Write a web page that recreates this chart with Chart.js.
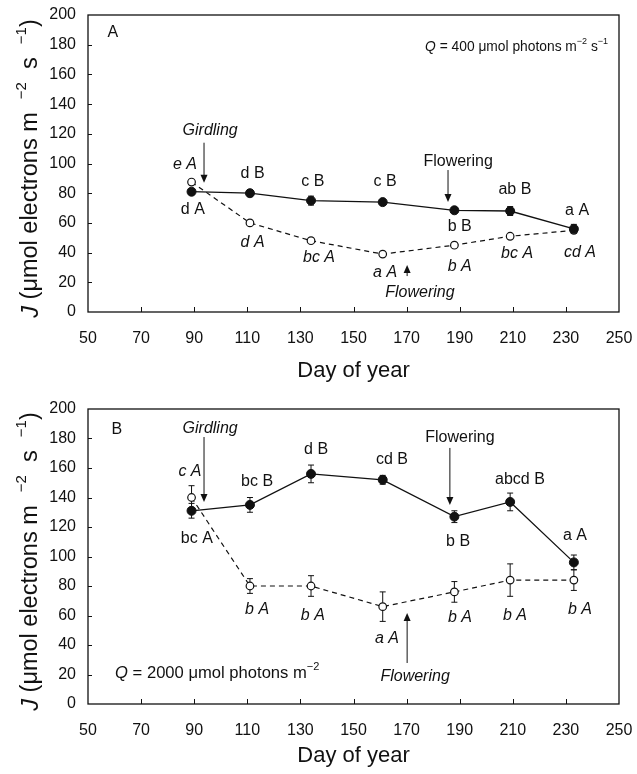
<!DOCTYPE html>
<html>
<head>
<meta charset="utf-8">
<script src="https://cdn.jsdelivr.net/npm/chart.js@4.4.0/dist/chart.umd.min.js"></script>
<style>
  html, body { margin: 0; padding: 0; background: #fff; }
  #wrap { position: relative; width: 637px; height: 774px; }
  .panel { position: absolute; left: 0; width: 637px; }
</style>
</head>
<body>
<div id="wrap">
  <div class="panel" style="top:0"><canvas id="chartA" width="637" height="382"></canvas></div>
  <div class="panel" style="top:382px"><canvas id="chartB" width="637" height="392"></canvas></div>
</div>
<script>
// Day of year of each measurement
const days = [89, 111, 134, 161, 188, 209, 233];

// Panel A, Q = 400
const controlA = [81, 80, 75, 74, 68.5, 68, 56];
const controlAErr = [2, 2, 3, 1.5, 1.5, 3, 3];
const girdledA = [87.5, 60, 48, 39, 45, 51, 55];
const girdledAErr = [1, 1, 1, 1, 1, 1, 1];

// Panel B, Q = 2000
const controlB = [131, 135, 156, 152, 127, 137, 96];
const controlBErr = [5, 5, 6, 3, 4, 6, 5];
const girdledB = [140, 80, 80, 66, 76, 84, 84];
const girdledBErr = [8, 5, 7, 10, 7, 11, 7];

// Axis ranges
const xMin = 50, xMax = 250, xStep = 20;
const yMin = 0, yMax = 200, yStep = 20;

// Letter labels (data coords), italic = girdled trees
const notesA = [
  { t: 'Girdling', x: 96, y: 122, it: true },
  { t: 'e A', x: 86.5, y: 99, it: true },
  { t: 'd A', x: 89.5, y: 69 },
  { t: 'd B', x: 112, y: 93 },
  { t: 'd A', x: 112, y: 46.5, it: true },
  { t: 'c B', x: 134.7, y: 87.5 },
  { t: 'bc A', x: 137, y: 36.4, it: true },
  { t: 'c B', x: 161.9, y: 87.5 },
  { t: 'a A', x: 161.9, y: 26.9, it: true },
  { t: 'Flowering', x: 175, y: 12.8, it: true },
  { t: 'Flowering', x: 189.4, y: 101 },
  { t: 'b B', x: 190, y: 57.2 },
  { t: 'b A', x: 190, y: 30.3, it: true },
  { t: 'ab B', x: 210.8, y: 82.2 },
  { t: 'bc A', x: 211.6, y: 39.1, it: true },
  { t: 'a A', x: 234.2, y: 68 },
  { t: 'cd A', x: 235.3, y: 39.7, it: true }
];
const arrowsA = [
  { x: 93.7, from: 114, to: 87 },
  { x: 185.6, from: 95.6, to: 74.1 },
  { x: 170.2, from: 24.2, to: 31.6 }
];

const notesB = [
  { t: 'Girdling', x: 96, y: 187, it: true },
  { t: 'c A', x: 88.4, y: 157.3, it: true },
  { t: 'bc A', x: 91, y: 111.9 },
  { t: 'bc B', x: 113.7, y: 150.5 },
  { t: 'b A', x: 113.7, y: 63.7, it: true },
  { t: 'd B', x: 135.9, y: 172.2 },
  { t: 'b A', x: 134.7, y: 60.3, it: true },
  { t: 'cd B', x: 164.5, y: 165.4 },
  { t: 'a A', x: 162.6, y: 44.7, it: true },
  { t: 'Flowering', x: 190.1, y: 180.3 },
  { t: 'abcd B', x: 212.7, y: 151.9 },
  { t: 'b B', x: 189.4, y: 109.8 },
  { t: 'a A', x: 233.4, y: 113.9 },
  { t: 'b A', x: 190.1, y: 58.3, it: true },
  { t: 'b A', x: 210.8, y: 60.3, it: true },
  { t: 'b A', x: 235.3, y: 63.7, it: true },
  { t: 'Flowering', x: 173.2, y: 18.3, it: true }
];
const arrowsB = [
  { x: 93.7, from: 181, to: 137 },
  { x: 186.3, from: 173.6, to: 134.9 },
  { x: 170.2, from: 27.8, to: 61.7 }
];

const FONT = "'Liberation Sans', Arial, Helvetica, sans-serif";
const INK = '#111';

function setFont(ctx, size, italic) {
  ctx.font = (italic ? 'italic ' : '') + size + 'px ' + FONT;
}

// draw mixed text: parts = [{t, it, sup}]
function drawRich(ctx, x, y, parts, size, align, supScale) {
  const supSize = Math.round(size * (supScale || 0.65));
  let total = 0;
  parts.forEach(p => {
    setFont(ctx, p.sup ? supSize : size, p.it);
    p.w = ctx.measureText(p.t).width;
    total += p.w;
  });
  let cx = align === 'right' ? x - total : align === 'center' ? x - total / 2 : x;
  ctx.textAlign = 'left';
  ctx.textBaseline = 'middle';
  parts.forEach(p => {
    setFont(ctx, p.sup ? supSize : size, p.it);
    ctx.fillText(p.t, cx, p.sup ? y - size * 0.38 : y);
    cx += p.w;
  });
}

function drawArrow(ctx, x, y0, y1) {
  const dir = y1 > y0 ? 1 : -1;
  ctx.beginPath();
  ctx.moveTo(x, y0);
  ctx.lineTo(x, y1 - dir * 7);
  ctx.stroke();
  ctx.beginPath();
  ctx.moveTo(x, y1);
  ctx.lineTo(x - 3.5, y1 - dir * 8);
  ctx.lineTo(x + 3.5, y1 - dir * 8);
  ctx.closePath();
  ctx.fill();
}

const decor = {
  id: 'decor',
  beforeDatasetsDraw(chart, args, opts) {
    const ctx = chart.ctx;
    const xs = chart.scales.x, ys = chart.scales.y;
    ctx.save();
    ctx.strokeStyle = INK;
    ctx.lineWidth = 1;
    // error bars
    opts.errors.forEach((errs, di) => {
      const vals = opts.values[di];
      days.forEach((d, i) => {
        const px = xs.getPixelForValue(d);
        const top = ys.getPixelForValue(vals[i] + errs[i]);
        const bot = ys.getPixelForValue(vals[i] - errs[i]);
        ctx.beginPath();
        ctx.moveTo(px, top); ctx.lineTo(px, bot);
        ctx.moveTo(px - 3, top); ctx.lineTo(px + 3, top);
        ctx.moveTo(px - 3, bot); ctx.lineTo(px + 3, bot);
        ctx.stroke();
      });
    });
    ctx.restore();
  },
  afterDraw(chart, args, opts) {
    const ctx = chart.ctx;
    const a = chart.chartArea;
    const xs = chart.scales.x, ys = chart.scales.y;
    ctx.save();
    ctx.strokeStyle = INK;
    ctx.fillStyle = INK;
    // frame
    ctx.lineWidth = 1.3;
    ctx.strokeRect(a.left, a.top, a.right - a.left, a.bottom - a.top);
    // inward ticks
    ctx.lineWidth = 1;
    ctx.beginPath();
    for (let v = xMin + xStep; v < xMax; v += xStep) {
      const px = Math.round(xs.getPixelForValue(v)) + 0.5;
      ctx.moveTo(px, a.bottom); ctx.lineTo(px, a.bottom - 5);
    }
    for (let v = yMin + yStep; v < yMax; v += yStep) {
      const py = Math.round(ys.getPixelForValue(v)) + 0.5;
      ctx.moveTo(a.left, py); ctx.lineTo(a.left + 4, py);
    }
    ctx.stroke();

    // letters and labels
    opts.notes.forEach(n => {
      setFont(ctx, 16, n.it);
      ctx.textAlign = 'center';
      ctx.textBaseline = 'middle';
      ctx.fillText(n.t, xs.getPixelForValue(n.x), ys.getPixelForValue(n.y));
    });
    ctx.lineWidth = 1;
    opts.arrows.forEach(ar => {
      drawArrow(ctx, xs.getPixelForValue(ar.x), ys.getPixelForValue(ar.from), ys.getPixelForValue(ar.to));
    });

    // panel letter
    setFont(ctx, 16, false);
    ctx.textAlign = 'center';
    ctx.textBaseline = 'middle';
    ctx.fillText(opts.letter.t, xs.getPixelForValue(opts.letter.x), ys.getPixelForValue(opts.letter.y));

    // light level
    drawRich(ctx, xs.getPixelForValue(opts.q.x), ys.getPixelForValue(opts.q.y), opts.q.parts, opts.q.size, opts.q.align);

    // y title
    ctx.save();
    ctx.translate(31, (a.top + a.bottom) / 2 + 5);
    ctx.rotate(-Math.PI / 2);
    drawRich(ctx, 0, 0, [
      { t: 'J', it: true },
      { t: ' (\u03bcmol electrons m  ' },
      { t: '\u2212', sup: true }, { t: '2', sup: true },
      { t: '  s  ' },
      { t: '\u2212', sup: true }, { t: '1', sup: true },
      { t: ')' }
    ], 23.5, 'center', 0.62);
    ctx.restore();
    ctx.restore();
  }
};

function makePanel(id, control, controlErr, girdled, girdledErr, notes, arrows, letter, q, topPad, titlePad) {
  const ctx = document.getElementById(id).getContext('2d');
  return new Chart(ctx, {
    type: 'scatter',
    data: {
      datasets: [{
        label: 'Control',
        data: days.map((d, i) => ({ x: d, y: control[i] })),
        showLine: true,
        borderColor: INK,
        borderWidth: 1.3,
        pointRadius: 4.5,
        pointBackgroundColor: INK,
        pointBorderColor: INK,
        pointBorderWidth: 1
      }, {
        label: 'Girdled',
        data: days.map((d, i) => ({ x: d, y: girdled[i] })),
        showLine: true,
        borderColor: INK,
        borderWidth: 1.2,
        borderDash: [5, 4],
        pointRadius: 3.8,
        pointBackgroundColor: '#fff',
        pointBorderColor: INK,
        pointBorderWidth: 1.2
      }]
    },
    options: {
      responsive: false,
      animation: false,
      events: [],
      layout: { padding: { top: topPad, right: 18, left: 0, bottom: 0 } },
      plugins: {
        legend: { display: false },
        tooltip: { enabled: false },
        decor: {
          errors: [controlErr, girdledErr],
          values: [control, girdled],
          notes: notes,
          arrows: arrows,
          letter: letter,
          q: q
        }
      },
      scales: {
        x: {
          type: 'linear',
          min: xMin,
          max: xMax,
          afterFit: s => { s.height = 70; s.paddingLeft = 0; s.paddingRight = 0; },
          ticks: { stepSize: xStep, padding: 17, color: INK, font: { family: FONT, size: 16 } },
          grid: { display: false, drawTicks: false },
          border: { display: false },
          title: {
            display: true,
            text: 'Day of year',
            color: INK,
            font: { family: FONT, size: 22, lineHeight: 1 },
            padding: { top: 0, bottom: titlePad }
          }
        },
        y: {
          min: yMin,
          max: yMax,
          afterFit: s => { s.width = 88; s.paddingTop = 0; s.paddingBottom = 0; },
          ticks: { stepSize: yStep, padding: 12, color: INK, font: { family: FONT, size: 16 } },
          grid: { display: false, drawTicks: false },
          border: { display: false }
        }
      }
    },
    plugins: [decor]
  });
}

makePanel('chartA', controlA, controlAErr, girdledA, girdledAErr, notesA, arrowsA,
  { t: 'A', x: 59.4, y: 188 },
  { x: 245.9, y: 178.5, align: 'right', size: 13.8, parts: [
    { t: 'Q', it: true }, { t: ' = 400 \u03bcmol photons m' },
    { t: '\u22122', sup: true }, { t: ' s' }, { t: '\u22121', sup: true }
  ] },
  15, 0);

makePanel('chartB', controlB, controlBErr, girdledB, girdledBErr, notesB, arrowsB,
  { t: 'B', x: 60.9, y: 185.8 },
  { x: 60.2, y: 21, align: 'left', size: 16.6, parts: [
    { t: 'Q', it: true }, { t: ' = 2000 \u03bcmol photons m' },
    { t: '\u22122', sup: true }
  ] },
  27, 7);
</script>
</body>
</html>
